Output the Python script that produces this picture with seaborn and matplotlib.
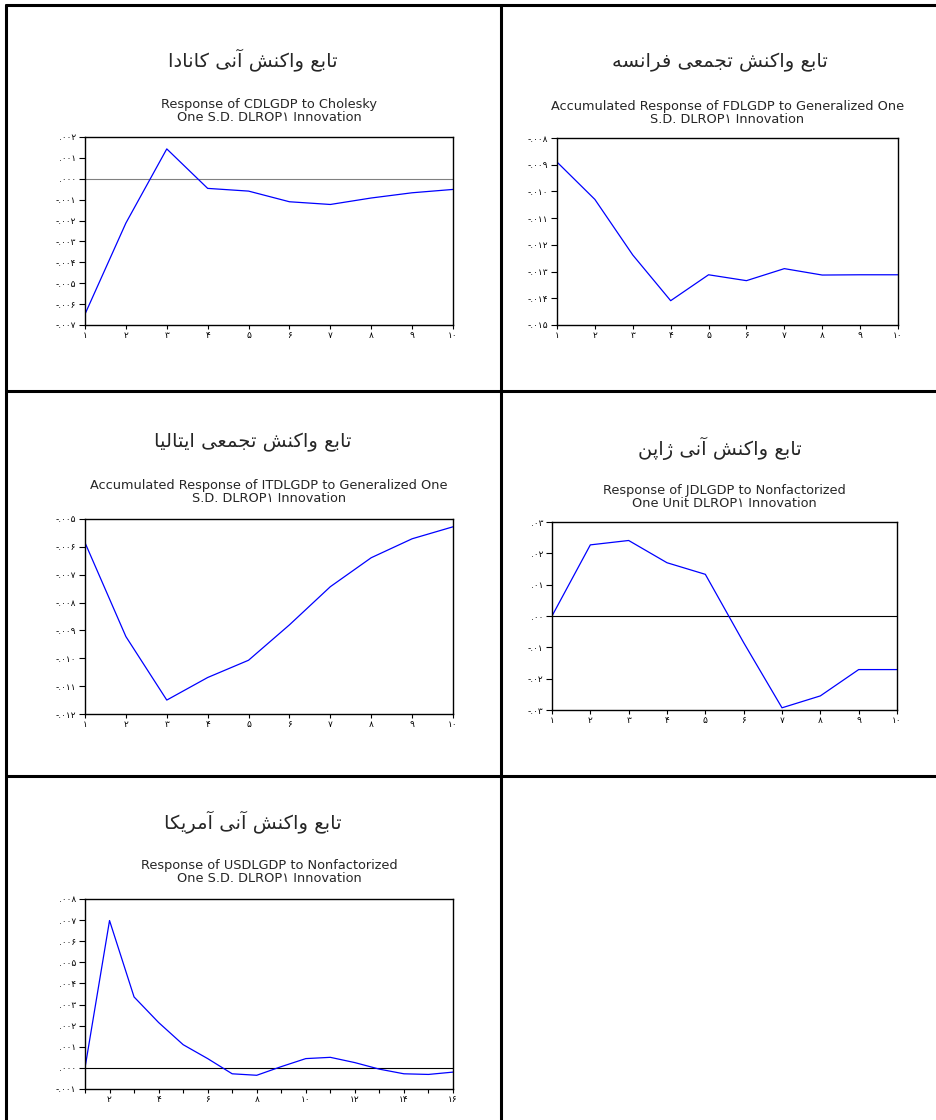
import matplotlib
matplotlib.use("Agg")
import matplotlib.pyplot as plt
import seaborn as sns
import numpy as np
from matplotlib.lines import Line2D
from matplotlib.ticker import FuncFormatter, MultipleLocator

# impulse responses
periods = list(range(1, 11))
periods_us = list(range(1, 17))

canada = [-0.00648, -0.00212, 0.00143, -0.00046, -0.00059, -0.00110, -0.00123, -0.00092, -0.00067, -0.00051]
france = [-0.00890, -0.01030, -0.01238, -0.01409, -0.01312, -0.01334, -0.01289, -0.01313, -0.01312, -0.01312]
italy = [-0.00585, -0.00922, -0.01150, -0.01069, -0.01007, -0.00880, -0.00743, -0.00639, -0.00571, -0.00528]
japan = [0.0000, 0.0227, 0.0241, 0.0170, 0.0133, -0.0085, -0.0293, -0.0255, -0.0171, -0.0171]
usa = [0.00000, 0.00698, 0.00336, 0.00215, 0.00110, 0.00044, -0.00028, -0.00035, 0.00006,
       0.00044, 0.00050, 0.00025, -0.00006, -0.00028, -0.00031, -0.00020]

titles_fa = ["تابع واکنش آنی کانادا", "تابع واکنش تجمعی فرانسه", "تابع واکنش تجمعی ایتالیا",
             "تابع واکنش آنی ژاپن", "تابع واکنش آنی آمریکا"]
subtitles = ["Response of CDLGDP to Cholesky\nOne S.D. DLROP۱ Innovation",
             "Accumulated Response of FDLGDP to Generalized One\nS.D. DLROP۱ Innovation",
             "Accumulated Response of ITDLGDP to Generalized One\nS.D. DLROP۱ Innovation",
             "Response of JDLGDP to Nonfactorized\nOne Unit DLROP۱ Innovation",
             "Response of USDLGDP to Nonfactorized\nOne S.D. DLROP۱ Innovation"]

# matplotlib does no arabic shaping, so pick presentation forms by hand
FORMS = {
    'ا': ('\uFE8D', '\uFE8E', None, None),
    'آ': ('\uFE81', '\uFE82', None, None),
    'ب': ('\uFE8F', '\uFE90', '\uFE91', '\uFE92'),
    'پ': ('\uFB56', '\uFB57', '\uFB58', '\uFB59'),
    'ت': ('\uFE95', '\uFE96', '\uFE97', '\uFE98'),
    'ج': ('\uFE9D', '\uFE9E', '\uFE9F', '\uFEA0'),
    'د': ('\uFEA9', '\uFEAA', None, None),
    'ر': ('\uFEAD', '\uFEAE', None, None),
    'ژ': ('\uFB8A', '\uFB8B', None, None),
    'س': ('\uFEB1', '\uFEB2', '\uFEB3', '\uFEB4'),
    'ش': ('\uFEB5', '\uFEB6', '\uFEB7', '\uFEB8'),
    'ع': ('\uFEC9', '\uFECA', '\uFECB', '\uFECC'),
    'ف': ('\uFED1', '\uFED2', '\uFED3', '\uFED4'),
    'ک': ('\uFB8E', '\uFB8F', '\uFB90', '\uFB91'),
    'ل': ('\uFEDD', '\uFEDE', '\uFEDF', '\uFEE0'),
    'م': ('\uFEE1', '\uFEE2', '\uFEE3', '\uFEE4'),
    'ن': ('\uFEE5', '\uFEE6', '\uFEE7', '\uFEE8'),
    'ه': ('\uFEE9', '\uFEEA', '\uFEEB', '\uFEEC'),
    'و': ('\uFEED', '\uFEEE', None, None),
    'ی': ('\uFBFC', '\uFBFD', '\uFBFE', '\uFBFF'),
}


def shape_fa(s):
    out = []
    for i, ch in enumerate(s):
        if ch not in FORMS:
            out.append(ch)
            continue
        prev = s[i - 1] if i > 0 else ''
        nxt = s[i + 1] if i + 1 < len(s) else ''
        pj = prev in FORMS and FORMS[prev][2] is not None
        nj = nxt in FORMS and FORMS[ch][2] is not None
        f = FORMS[ch]
        if pj and nj:
            out.append(f[3])
        elif pj:
            out.append(f[1])
        elif nj:
            out.append(f[2])
        else:
            out.append(f[0])
    return ''.join(reversed(out))


FA_DIGITS = str.maketrans('0123456789', '۰۱۲۳۴۵۶۷۸۹')


def eviews_fmt(ndec):
    def f(v, pos):
        s = f"{v:.{ndec}f}"
        if s.startswith('-0.') and float(s) == 0:
            s = s[1:]
        s = s.replace('0.', '.', 1)
        return s.translate(FA_DIGITS)
    return FuncFormatter(f)


def int_fmt(v, pos):
    return str(int(round(v))).translate(FA_DIGITS)


W, H = 936, 1120
sns.set_style("white")
plt.rcParams['font.family'] = ['DejaVu Sans']
fig = plt.figure(figsize=(W / 100, H / 100), dpi=100)


def px_rect(x0, y0, x1, y1):
    return [x0 / W, 1 - y1 / H, (x1 - x0) / W, (y1 - y0) / H]


def fx(x):
    return x / W


def fy(y):
    return 1 - y / H


# table borders
for (x0, y0, x1, y1) in [(6, 5, 936, 5), (6, 5, 6, 1120), (501, 5, 501, 1120),
                         (6, 391, 936, 391), (6, 776, 936, 776)]:
    fig.add_artist(Line2D([fx(x0), fx(x1)], [fy(y0), fy(y1)], color='black', lw=2.2,
                          transform=fig.transFigure))

panels = [
    dict(x=periods, y=canada, rect=(85, 137, 453, 325), ylim=(-0.007, 0.002), step=0.001, nd=3,
         zero='#808080', title_xy=(253, 60), sub_y=111, xlab=1),
    dict(x=periods, y=france, rect=(557, 138, 898, 325), ylim=(-0.015, -0.008), step=0.001, nd=3,
         zero=None, title_xy=(720, 62), sub_y=113, xlab=1),
    dict(x=periods, y=italy, rect=(85, 519, 453, 714), ylim=(-0.012, -0.005), step=0.001, nd=3,
         zero=None, title_xy=(253, 442), sub_y=492, xlab=1),
    dict(x=periods, y=japan, rect=(552, 522, 897, 710), ylim=(-0.03, 0.03), step=0.01, nd=2,
         zero='black', title_xy=(720, 448), sub_y=497, xlab=1),
    dict(x=periods_us, y=usa, rect=(85, 899, 453, 1089), ylim=(-0.001, 0.008), step=0.001, nd=3,
         zero='black', title_xy=(253, 822), sub_y=872, xlab=2),
]

for p, tfa, sub in zip(panels, titles_fa, subtitles):
    x0, y0, x1, y1 = p['rect']
    ax = fig.add_axes(px_rect(*p['rect']))
    if p['zero']:
        ax.axhline(0, color=p['zero'], lw=0.8)
    sns.lineplot(x=p['x'], y=p['y'], ax=ax, color='#0000FF', linewidth=0.9)
    ax.set_xlim(p['x'][0], p['x'][-1])
    ax.set_ylim(*p['ylim'])
    ax.yaxis.set_major_locator(MultipleLocator(p['step']))
    ax.yaxis.set_major_formatter(eviews_fmt(p['nd']))
    ax.xaxis.set_major_locator(MultipleLocator(1))
    if p['xlab'] == 2:
        ax.xaxis.set_major_formatter(FuncFormatter(
            lambda v, pos: int_fmt(v, pos) if int(round(v)) % 2 == 0 else ''))
    else:
        ax.xaxis.set_major_formatter(FuncFormatter(int_fmt))
    ax.tick_params(axis='y', direction='out', length=4.3, width=0.8, labelsize=6.5,
                   colors='black', pad=2, left=True)
    ax.tick_params(axis='x', direction='out', length=3, width=0.8, labelsize=6.5,
                   colors='black', pad=1.5, bottom=True)
    for s in ax.spines.values():
        s.set_color('black')
        s.set_linewidth(1.0)
    ax.set_xlabel('')
    ax.set_ylabel('')
    cx = (x0 + x1) / 2
    fig.text(fx(cx), fy(p['sub_y']), sub, ha='center', va='center', fontsize=9.3,
             linespacing=0.95, family=['DejaVu Sans'])
    fig.text(fx(p['title_xy'][0]), fy(p['title_xy'][1]), shape_fa(tfa), ha='center',
             va='center', fontsize=14, family=['DejaVu Sans'])

fig.savefig("out.png", dpi=100)
